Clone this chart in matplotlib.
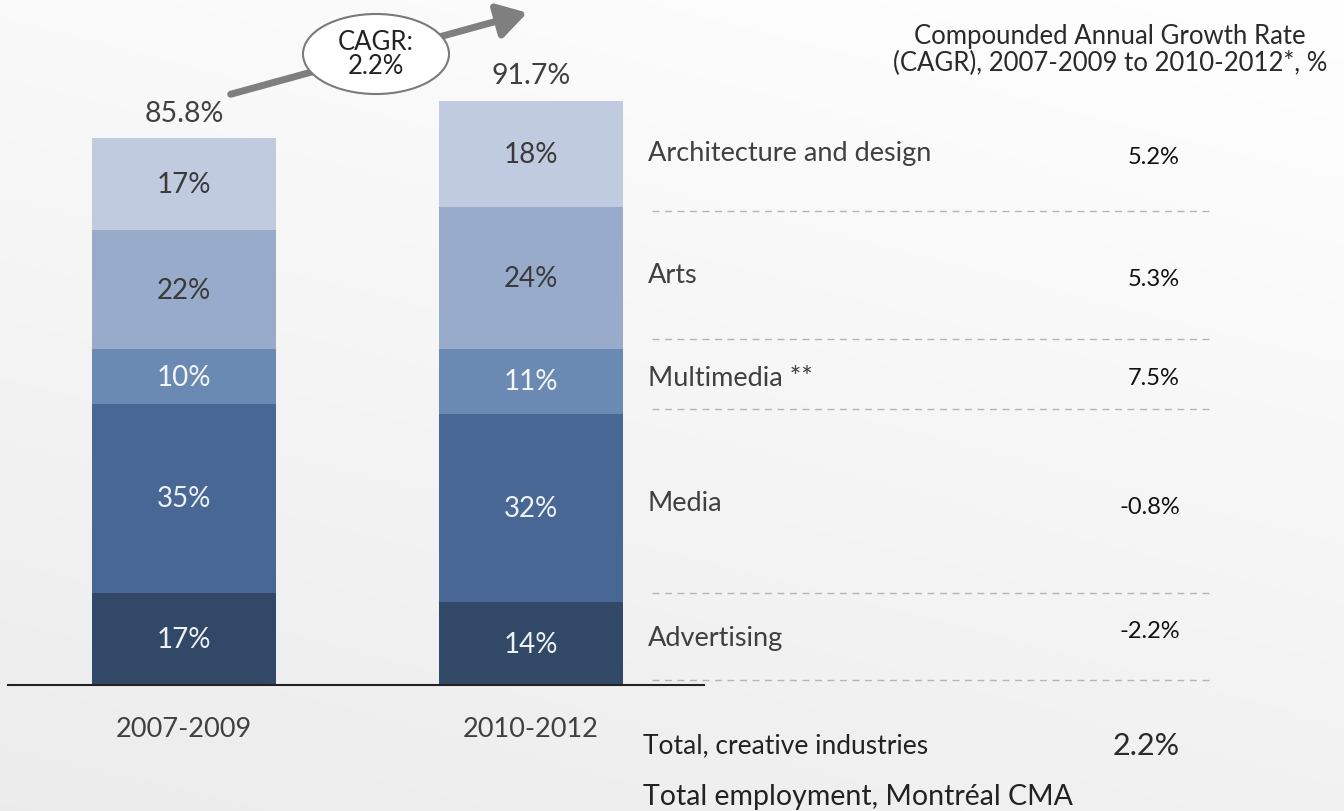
import numpy as np
import matplotlib
matplotlib.use("Agg")
import matplotlib.pyplot as plt
from matplotlib.patches import Ellipse, FancyArrowPatch

plt.rcParams['font.family'] = ['Lato', 'DejaVu Sans']

# employment shares by sector, bottom of the stack first
periods = ['2007-2009', '2010-2012']
totals = [85.8, 91.7]
sectors = ['Advertising', 'Media', 'Multimedia **', 'Arts', 'Architecture and design']
share_0709 = [17, 35, 10, 22, 17]
share_1012 = [14, 32, 11, 24, 18]
sector_cagr = [-2.2, -0.8, 7.5, 5.3, 5.2]
total_cagr = 2.2

colors = ['#324867', '#486794', '#6a89b3', '#98abca', '#c0cbdf']
label_colors = ['#eef1f6', '#eef1f6', '#f4f6fa', '#3a3a3a', '#3a3a3a']

W, H = 1344, 812
fig = plt.figure(figsize=(W / 100, H / 100), dpi=100)

# soft grey background, lighter towards the top right
bg = fig.add_axes([0, 0, 1, 1])
yy = np.linspace(0, 1, 200)[:, None]
xx = np.linspace(0, 1, 300)[None, :]
grad = 1.0 - 0.075 * np.clip(0.7 * yy + 0.3 * (1 - xx), 0, 1)
bg.imshow(np.dstack([grad, grad, grad]), extent=[0, W, H, 0], aspect='auto')
bg.set_xlim(0, W)
bg.set_ylim(H, 0)
bg.axis('off')

# bar axes: baseline at pixel row 686
px_per_unit = 6.37
base_px = 686
ax = fig.add_axes([8 / W, (H - base_px) / H, (704 - 8) / W, base_px / H])
ax.patch.set_alpha(0)
ax.set_xlim(-0.507, 1.499)
ax.set_ylim(0, base_px / px_per_unit)
for s in ax.spines.values():
    s.set_visible(False)
ax.spines['bottom'].set_visible(True)
ax.spines['bottom'].set_linewidth(1.5)
ax.spines['bottom'].set_color('#222222')
ax.set_yticks([])
ax.set_xticks([0, 1])
ax.set_xticklabels(periods, fontsize=19.5, color='#404040')
ax.tick_params(axis='x', length=0, pad=22)

x = np.arange(len(periods))
for i, (shares, total) in enumerate(zip([share_0709, share_1012], totals)):
    bottom = 0.0
    for k, pct in enumerate(shares):
        h = total * pct / sum(shares)
        ax.bar(x[i], h, width=0.53, bottom=bottom, color=colors[k], linewidth=0)
        ax.text(x[i], bottom + h / 2, f'{pct}%', ha='center', va='center',
                fontsize=20, color=label_colors[k])
        bottom += h
    ax.text(x[i], bottom + 2.0, f'{total}%', ha='center', va='bottom',
            fontsize=20.5, color='#404040')

# CAGR arrow with the ellipse callout
bg.add_patch(FancyArrowPatch((228, 96), (530, 13), arrowstyle='-|>,head_length=5,head_width=3',
                             color='#7f7f7f', lw=5, mutation_scale=3.5, zorder=3))
bg.add_patch(Ellipse((376, 55), 146, 80, facecolor='white', edgecolor='#7a7a7a', lw=1.5, zorder=4))
bg.text(376, 55, 'CAGR:\n2.2%', ha='center', va='center', fontsize=18.5,
        color='#222222', linespacing=0.95, zorder=5)

# right-hand table of sector growth rates
bg.text(1110, 50, 'Compounded Annual Growth Rate\n(CAGR), 2007-2009 to 2010-2012*, %',
        ha='center', va='center', fontsize=18.5, color='#2a2a2a', linespacing=1.1)

label_y = [639, 504, 379, 276, 154]
value_y = [632, 508, 379, 280, 158]
for name, val, ly, vy in zip(sectors, sector_cagr, label_y, value_y):
    bg.text(648, ly, name, ha='left', va='center', fontsize=19.5, color='#404040')
    bg.text(1180, vy, f'{val}%', ha='right', va='center', fontsize=17, color='#111111')

for y in [212, 340, 410, 594, 681]:
    bg.plot([652, 1212], [y, y], color='#b5b5b5', lw=1, ls=(0, (5, 4)))

bg.text(643, 746, 'Total, creative industries', ha='left', va='center',
        fontsize=19, color='#222222')
bg.text(1180, 746, f'{total_cagr}%', ha='right', va='center', fontsize=22,
        color='#2a2a2a')
bg.text(643, 797, 'Total employment, Montréal CMA', ha='left', va='center',
        fontsize=20.5, color='#222222')

fig.savefig('out.png', dpi=100)
